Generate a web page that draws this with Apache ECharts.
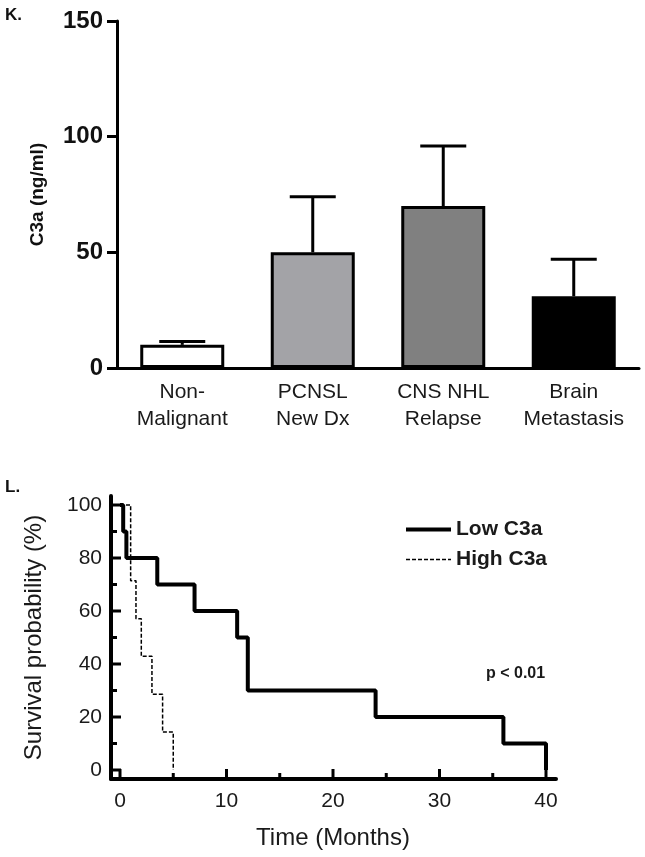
<!DOCTYPE html>
<html>
<head>
<meta charset="utf-8">
<script src="https://cdn.jsdelivr.net/npm/echarts@6/dist/echarts.min.js"></script>
<style>
html,body{margin:0;padding:0;background:#fff;}
#chart{width:645px;height:857px;}
</style>
</head>
<body>
<div id="chart"></div>
<script>
// ---- Data: panel K (bar chart) ----
const barCategories = ['Non-\nMalignant', 'PCNSL\nNew Dx', 'CNS NHL\nRelapse', 'Brain\nMetastasis'];
const barMeans = [10, 50, 70, 31];
const barErrorTops = [11.5, 74, 96, 47];

// ---- Data: panel L (Kaplan-Meier) ----
const lowTimes = [0, 0.3, 0.6, 3.5, 7, 11, 12, 24, 36, 40];
const lowSurvival = [100, 90, 80, 70, 60, 50, 30, 20, 10, 0];
const highTimes = [0, 1, 1.5, 2, 3, 4, 5];
const highSurvival = [100, 71.4, 57.1, 42.9, 28.6, 14.3, 0];
const kmXMajorTicks = [0, 10, 20, 30, 40];
const kmXMinorTicks = [5, 15, 25, 35];
const kmYMajorTicks = [0, 20, 40, 60, 80, 100];
const kmYMinorTicks = [10, 30, 50, 70, 90];

// ---- Styles ----
const FONT = '"Liberation Sans", Arial, Helvetica, sans-serif';
const barFills = ['#ffffff', '#a3a3a7', '#808080', '#000000'];
const AXIS_OFFSET = 9;   // KM axes sit 9px outside the data area

const chart = echarts.init(document.getElementById('chart'), null, {renderer: 'canvas'});

const lowData = lowTimes.map((t, i) => [t, lowSurvival[i]]);
const highData = highTimes.map((t, i) => [t, highSurvival[i]]);
const errData = barMeans.map((m, i) => [i, m, barErrorTops[i]]);
const hidden = {show: false};

// tick marks of the KM axes, placed through the KM coordinate system
function tickSeries(values, axis, len) {
  return {
    type: 'custom', xAxisIndex: 2, yAxisIndex: 2, clip: false, silent: true, z: 6,
    data: values.map(v => axis === 'x' ? [v, 0] : [0, v]),
    encode: {x: 0, y: 1},
    renderItem: function (params, api) {
      const cs = params.coordSys;
      const p = api.coord([api.value(0), api.value(1)]);
      let shape;
      if (axis === 'x') {
        const y0 = cs.y + cs.height + AXIS_OFFSET;
        shape = {x1: p[0], y1: y0, x2: p[0], y2: y0 - len};
      } else {
        const x0 = cs.x - AXIS_OFFSET;
        shape = {x1: x0, y1: p[1], x2: x0 + len, y2: p[1]};
      }
      return {type: 'line', shape: shape, style: {stroke: '#000', lineWidth: 3}};
    }
  };
}

const option = {
  backgroundColor: '#ffffff',
  animation: false,
  textStyle: {fontFamily: FONT},
  grid: [
    {left: 117, right: 6, top: 21, height: 347},
    {left: 111, right: 89, top: 496, height: 283},
    {left: 120, width: 426, top: 505, height: 265}
  ],
  xAxis: [
    {
      gridIndex: 0, type: 'category', data: barCategories,
      axisLine: {show: true, lineStyle: {color: '#000', width: 3}},
      axisTick: hidden,
      axisLabel: {color: '#1a1a1a', fontSize: 21, fontFamily: FONT, lineHeight: 27, margin: 11, interval: 0}
    },
    {
      gridIndex: 1, type: 'value', position: 'bottom', min: 0, max: 1,
      axisLine: {show: true, onZero: false, lineStyle: {color: '#000', width: 4}},
      axisTick: hidden, axisLabel: hidden, splitLine: hidden
    },
    {
      gridIndex: 2, type: 'value', position: 'bottom', min: 0, max: 40, interval: 10, offset: AXIS_OFFSET,
      axisLine: {show: false, onZero: false},
      axisTick: hidden,
      axisLabel: {color: '#1a1a1a', fontSize: 21, fontFamily: FONT, margin: 12},
      splitLine: hidden,
      name: 'Time (Months)', nameLocation: 'middle', nameGap: 47,
      nameTextStyle: {color: '#1a1a1a', fontSize: 24, fontFamily: FONT}
    }
  ],
  yAxis: [
    {
      gridIndex: 0, type: 'value', min: 0, max: 150, interval: 50,
      axisLine: {show: true, lineStyle: {color: '#000', width: 3}},
      axisTick: {show: true, length: 10, lineStyle: {color: '#000', width: 3}},
      axisLabel: {color: '#111', fontSize: 24, fontWeight: 'bold', fontFamily: FONT, margin: 14},
      splitLine: hidden,
      name: 'C3a (ng/ml)', nameLocation: 'middle', nameGap: 70, nameRotate: 90,
      nameTextStyle: {color: '#111', fontSize: 19, fontWeight: 'bold', fontFamily: FONT}
    },
    {
      gridIndex: 1, type: 'value', position: 'left', min: 0, max: 1,
      axisLine: {show: true, onZero: false, lineStyle: {color: '#000', width: 4}},
      axisTick: hidden, axisLabel: hidden, splitLine: hidden
    },
    {
      gridIndex: 2, type: 'value', position: 'left', min: 0, max: 100, interval: 20, offset: AXIS_OFFSET,
      axisLine: {show: false, onZero: false},
      axisTick: hidden,
      axisLabel: {color: '#1a1a1a', fontSize: 21, fontFamily: FONT, margin: 9},
      splitLine: hidden,
      name: 'Survival probability (%)', nameLocation: 'middle', nameGap: 65, nameRotate: 90,
      nameTextStyle: {color: '#1a1a1a', fontSize: 24, fontFamily: FONT}
    }
  ],
  legend: {
    orient: 'vertical', left: 399, top: 514,
    itemWidth: 45, itemHeight: 14, itemGap: 9,
    data: ['Low C3a', 'High C3a'],
    itemStyle: {opacity: 0},
    lineStyle: {width: 'inherit'},
    textStyle: {color: '#1a1a1a', fontSize: 21, fontWeight: 'bold', fontFamily: FONT, lineHeight: 21},
    selectedMode: false
  },
  series: [
    {
      type: 'bar', xAxisIndex: 0, yAxisIndex: 0, barWidth: 84,
      data: barMeans.map((v, i) => ({value: v, itemStyle: {color: barFills[i]}})),
      itemStyle: {borderColor: '#000', borderWidth: 3},
      z: 3
    },
    {
      type: 'custom', xAxisIndex: 0, yAxisIndex: 0,
      data: errData,
      encode: {x: 0, y: [1, 2]},
      renderItem: function (params, api) {
        const p1 = api.coord([api.value(0), api.value(1)]);
        const p2 = api.coord([api.value(0), api.value(2)]);
        const half = 23;
        return {
          type: 'group',
          children: [
            {type: 'line', shape: {x1: p1[0], y1: p1[1], x2: p2[0], y2: p2[1]}, style: {stroke: '#000', lineWidth: 3}},
            {type: 'line', shape: {x1: p2[0] - half, y1: p2[1], x2: p2[0] + half, y2: p2[1]}, style: {stroke: '#000', lineWidth: 3}}
          ]
        };
      },
      z: 2
    },
    {
      name: 'Low C3a', type: 'line', xAxisIndex: 2, yAxisIndex: 2,
      data: lowData, step: 'end', symbol: 'none', showSymbol: false, clip: false,
      lineStyle: {color: '#000', width: 4},
      itemStyle: {color: '#000'},
      z: 4
    },
    {
      name: 'High C3a', type: 'line', xAxisIndex: 2, yAxisIndex: 2,
      data: highData, step: 'end', symbol: 'none', showSymbol: false, clip: false,
      lineStyle: {color: '#000', width: 1.5, type: [4, 2]},
      itemStyle: {color: '#000'},
      z: 5
    },
    tickSeries(kmXMajorTicks, 'x', 10),
    tickSeries(kmXMinorTicks, 'x', 6),
    tickSeries(kmYMajorTicks, 'y', 10),
    tickSeries(kmYMinorTicks, 'y', 6)
  ],
  graphic: [
    {type: 'text', left: 5, top: 7, style: {text: 'K.', fill: '#111', font: 'bold 17px ' + FONT}},
    {type: 'text', left: 5, top: 479, style: {text: 'L.', fill: '#111', font: 'bold 17px ' + FONT}},
    {type: 'text', left: 486, top: 666, style: {text: 'p < 0.01', fill: '#1a1a1a', font: 'bold 16px ' + FONT}}
  ]
};

chart.setOption(option);
</script>
</body>
</html>
